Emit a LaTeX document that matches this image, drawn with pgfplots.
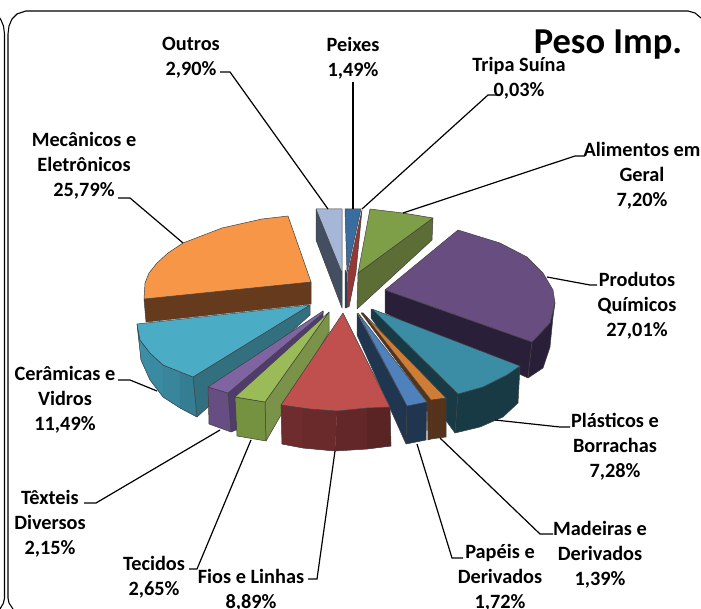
\documentclass[border=0pt]{standalone}
\usepackage{pgfplots}
\usepackage{fontspec}
\setmainfont{Carlito}
\pgfplotsset{compat=1.18}
\definecolor{c1}{HTML}{A6B6D6}
\definecolor{c3}{HTML}{434F60}
\definecolor{c4}{HTML}{3B6CA0}
\definecolor{c5}{HTML}{24405F}
\definecolor{c6}{HTML}{953735}
\definecolor{c7}{HTML}{7F9E48}
\definecolor{c8}{HTML}{5C6D36}
\definecolor{c9}{HTML}{F79646}
\definecolor{c10}{HTML}{663A1C}
\definecolor{c11}{HTML}{4BACC6}
\definecolor{c12}{HTML}{33707F}
\definecolor{c13}{HTML}{3A8BA2}
\definecolor{c14}{HTML}{8064A2}
\definecolor{c15}{HTML}{4F3C6C}
\definecolor{c16}{HTML}{664E82}
\definecolor{c17}{HTML}{9BBB59}
\definecolor{c18}{HTML}{7A9348}
\definecolor{c19}{HTML}{74923F}
\definecolor{c20}{HTML}{4F81BD}
\definecolor{c21}{HTML}{1F3550}
\definecolor{c22}{HTML}{55331A}
\definecolor{c23}{HTML}{3B8CA5}
\definecolor{c24}{HTML}{173A45}
\definecolor{c25}{HTML}{684E80}
\definecolor{c26}{HTML}{2A1F38}
\definecolor{c27}{HTML}{CF7C35}
\definecolor{c28}{HTML}{C0504D}
\definecolor{c29}{HTML}{6A2A2C}
\newcommand{\lab}[3]{\node[align=center,font=\fontsize{20.3}{25}\selectfont\bfseries,inner sep=0pt,anchor=center] at (axis cs:#1,#2) {#3};}
\newcommand{\poly}[2]{\addplot[fill=#1,draw=black!75,line width=0.5pt,line join=round] coordinates {#2} --cycle;}
\newcommand{\slc}[2]{\addplot[fill=#1,draw=#1,line width=0.2pt] coordinates {#2} --cycle;}
\newcommand{\outl}[1]{\addplot[draw=black!75,line width=0.5pt,line join=round] coordinates {#1} --cycle;}
\begin{document}
\begin{tikzpicture}[x=1pt,y=1pt]
\useasboundingbox (0,0) rectangle (701,609);
\begin{axis}[at={(0,0)},anchor=south west,width=701pt,height=609pt,scale only axis,hide axis,
  xmin=0,xmax=701,ymin=0,ymax=609,y dir=reverse,no markers,clip=true]
% frames
\addplot[black,line width=1.1pt] coordinates {(-2,15)(1,20)(3.5,26)(4.5,34)(4.5,598)(3.5,603)(0,609)};
\addplot[black,line width=1.1pt] coordinates {(13,609)(9,603)(8,598)(8,34)(9,26)(12,19)(17,14)(26,11)(688,11)(695,13)(701,18)};
% Outros
\poly{c3}{(316,209)(316,240)(342,308)(342,273)}
\poly{c1}{(316,209)(342,209)(342,273)}
% Peixes side and top
\poly{c5}{(345,270)(345,308)(347,308)(347,273)}
\poly{c4}{(345,209)(361,209)(347,273)}
% Tripa
\poly{c6}{(362,210)(356,272)(349,307)(347,307)(348,273)}
% Alimentos
\poly{c8}{(358,273)(357,309)(432,240)(433,218)}
\poly{c7}{(358,273)(370,209)(403,213)(433,218)}
% Orange
\poly{c10}{(144,299)(146,322)(311,304)(311,282)}
\poly{c9}{(311,282)(288,216)(262,219)(222,228)(183,243)(168,253)(157,263)(149,273)(145,283)(144,299)}
% Ceramicas
\poly{c12}{(193,377)(197,417)(310,315)(310,305)}
\slc{c13}{(137,324)(141,360)(140,340)}
\slc{c13!92!c11}{(140,340)(141,360)(150,380)(150,353)}
\slc{c13}{(150,353)(150,380)(163,397)(163,365)}
\slc{c13!96!black}{(163,365)(163,397)(180,408)(180,372)}
\slc{c13!90!black}{(180,372)(180,408)(197,417)(193,377)}
\outl{(137,324)(141,360)(150,380)(163,397)(180,408)(197,417)(193,377)(163,365)(150,353)(140,340)}
\poly{c11}{(137,324)(310,305)(193,377)(163,365)(150,353)(140,340)}
% small purple
\poly{c15}{(228,393)(231,432)(236,430)(323,317)(323,311)}
\poly{c16}{(208,387)(209,424)(231,432)(228,393)}
\poly{c14}{(208,387)(228,393)(323,313)(323,311)}
% small green
\poly{c18}{(265,402)(266,441)(329,332)(329,312)}
\poly{c19}{(235,397)(237,436)(266,441)(265,402)}
\poly{c17}{(235,397)(265,402)(329,312)}
% big purple
\poly{c26}{(385,290)(385,313)(528,378)(532,342)}
\poly{c26}{(532,342)(528,378)(543,368)(550,347)(553,317)(555,303)(550,323)}
\poly{c25}{(385,290)(458,230)(500,243)(527,257)(543,273)(553,290)(555,303)(550,323)(532,342)}
% teal
\poly{c24}{(371,309)(371,318)(455,433)(458,394)(375,312)}
\poly{c24}{(458,394)(455,433)(480,427)(503,417)(518,403)(520,366)(507,375)(483,387)}
\poly{c23}{(372,309)(458,394)(483,387)(507,375)(520,366)}
% small orange
\poly{c22}{(431,400)(431,439)(446,437)(446,398)}
\poly{c22}{(361,313)(427,402)(428,440)(431,439)(431,400)(363,313)}
\poly{c27}{(363,313)(431,400)(446,398)}
% dark blue
\poly{c21}{(357,313)(357,335)(406,444)(407,406)}
\poly{c21}{(407,406)(406,444)(426,440)(427,402)}
\poly{c20}{(358,313)(407,406)(427,402)}
% red
\slc{c29!94!c28}{(281,405)(282,444)(303,448)(303,408)}
\slc{c29}{(303,408)(303,448)(335,451)(337,411)(310,409)}
\slc{c29!93!black}{(337,411)(335,451)(367,449)(367,408)}
\slc{c29!85!black}{(367,408)(367,449)(391,446)(390,407)}
\outl{(281,405)(282,444)(303,448)(335,451)(367,449)(391,446)(390,407)(367,408)(337,411)(310,409)}
\poly{c28}{(343,313)(281,405)(310,409)(337,411)(367,408)(390,407)}
% leaders
\addplot[black,line width=1.2pt] coordinates {(220,72)(230,72)(328,209)};
\addplot[black,line width=1.2pt] coordinates {(353,82)(353,209)};
\addplot[black,line width=1.2pt] coordinates {(497,95)(488,95)(362,209)};
\addplot[black,line width=1.2pt] coordinates {(585,156)(575,156)(403,213)};
\addplot[black,line width=1.2pt] coordinates {(597,285)(590,285)(547,277)};
\addplot[black,line width=1.2pt] coordinates {(570,427)(560,427)(495,420)};
\addplot[black,line width=1.2pt] coordinates {(553,534)(540,534)(440,438)};
\addplot[black,line width=1.2pt] coordinates {(463,558)(452,558)(417,444)};
\addplot[black,line width=1.2pt] coordinates {(308,579)(317,579)(335,451)};
\addplot[black,line width=1.2pt] coordinates {(189,569)(197,569)(251,440)};
\addplot[black,line width=1.2pt] coordinates {(84,503)(96,503)(220,430)};
\addplot[black,line width=1.2pt] coordinates {(118,380)(130,380)(157,391)};
\addplot[black,line width=1.2pt] coordinates {(118,198)(130,198)(183,243)};
% labels
\node[font=\fontsize{36.5}{40}\selectfont\bfseries,inner sep=0pt] at (axis cs:608,45) {Peso Imp.};
\lab{191}{58}{Outros\\2,90\%}
\lab{353}{58}{Peixes\\1,49\%}
\lab{519}{78}{Tripa Suína\\0,03\%}
\lab{642}{176}{Alimentos em\\Geral\\7,20\%}
\lab{637}{306}{Produtos\\Químicos\\27,01\%}
\lab{615}{447}{Plásticos e\\Borrachas\\7,28\%}
\lab{600}{555}{Madeiras e\\Derivados\\1,39\%}
\lab{500}{578}{Papéis e\\Derivados\\1,72\%}
\lab{251}{590}{Fios e Linhas\\8,89\%}
\lab{154}{577}{Tecidos\\2,65\%}
\lab{50}{524}{Têxteis\\Diversos\\2,15\%}
\lab{65}{400}{Cerâmicas e\\Vidros\\11,49\%}
\lab{84}{166}{Mecânicos e\\Eletrônicos\\25,79\%}
\end{axis}
\end{tikzpicture}
\end{document}
